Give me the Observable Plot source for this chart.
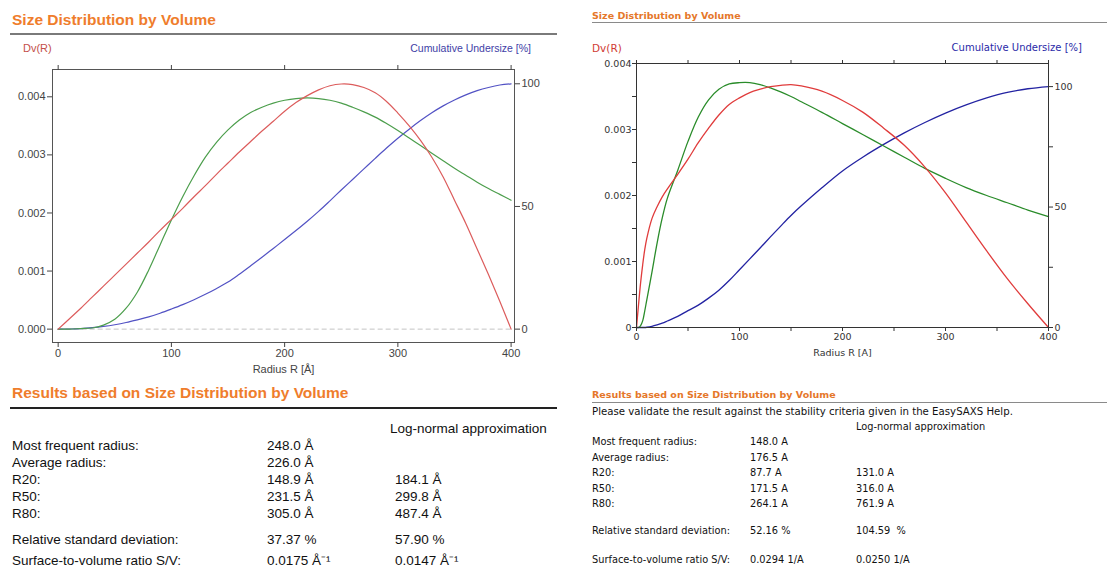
<!DOCTYPE html>
<html>
<head>
<meta charset="utf-8">
<script src="https://cdn.jsdelivr.net/npm/d3@7"></script>
<script src="https://cdn.jsdelivr.net/npm/@observablehq/plot@0.6"></script>
<style>
  html, body { margin: 0; padding: 0; background: #fff; }
  #page { position: relative; width: 1107px; height: 569px; overflow: hidden; }
  .abs { position: absolute; white-space: pre; }
  .arial { font-family: "Liberation Sans", Arial, sans-serif; }
  .tahoma { font-family: "DejaVu Sans", Verdana, sans-serif; }
  .chart { position: absolute; }
</style>
</head>
<body>
<div id="page"></div>
<script>
// ---------- Sample A (left report) ----------
const radiusA = [0,10,20,30,40,50,60,70,80,90,100,110,120,130,140,150,160,170,180,190,200,
                 210,220,230,240,250,260,270,280,290,300,310,320,330,340,350,360,370,380,390,400];
// Dv(R), volume-weighted distribution
const dvA = [0,0.00018,0.00036,0.00055,0.00074,0.00093,0.00112,0.00131,0.0015,0.0017,0.00189,
             0.00208,0.00228,0.00247,0.00267,0.00286,0.00305,0.00323,0.00341,0.00358,0.00375,
             0.0039,0.00402,0.00412,0.00419,0.00422,0.00421,0.00416,0.00407,0.00392,0.00372,
             0.0035,0.00325,0.00296,0.00262,0.00222,0.00182,0.00138,0.00094,0.00048,0];
// Log-normal approximation of Dv(R)
const logNormA = [0,0,0.00001,0.00002,0.00007,0.00017,0.00036,0.00064,0.00102,0.00145,0.00188,
                  0.00228,0.00264,0.00296,0.00322,0.00343,0.0036,0.00373,0.00382,0.00389,0.00394,
                  0.00397,0.00398,0.00397,0.00394,0.00389,0.00382,0.00374,0.00365,0.00354,0.00342,
                  0.00329,0.00316,0.00303,0.0029,0.00277,0.00265,0.00253,0.00242,0.00232,0.00222];
// Cumulative undersize [%]
const cumA = [0,0.05,0.25,0.6,1.1,1.8,2.7,3.8,5.0,6.5,8.2,10.0,12.0,14.2,16.6,19.2,22.4,25.8,29.3,
              32.9,36.5,40.2,44.0,48.0,52.3,56.7,61.0,65.3,69.6,73.8,77.8,81.5,85.0,88.2,91.0,93.4,
              95.5,97.2,98.5,99.5,100];
const xTicksA = [0,100,200,300,400];
const dvTicksA = [0,0.001,0.002,0.003,0.004];
const cumTicksA = [0,50,100];

const rowLabelsA = ["Most frequent radius:","Average radius:","R20:","R50:","R80:",
                    "Relative standard deviation:","Surface-to-volume ratio S/V:"];
const resultsA = ["248.0 Å","226.0 Å","148.9 Å","231.5 Å","305.0 Å","37.37 %","0.0175 Å⁻¹"];
const logNormResultsA = ["","","184.1 Å","299.8 Å","487.4 Å","57.90 %","0.0147 Å⁻¹"];

// ---------- Sample B (right report) ----------
const radiusB = [0,2,4,6,8,10,15,20,25,30,40,50,60,70,80,90,100,110,120,130,140,150,160,
                 180,200,220,240,260,280,300,320,340,360,380,400];
const dvB = [0,0.00035,0.00068,0.00095,0.00118,0.00135,0.00165,0.00183,0.00198,0.0021,0.00232,
             0.00255,0.0028,0.00302,0.00322,0.00338,0.00348,0.00356,0.00361,0.00365,0.00367,
             0.00368,0.00366,0.00358,0.00344,0.00326,0.00302,0.00276,0.00243,0.00204,0.0016,
             0.00116,0.00074,0.00036,0];
const logNormB = [0,0,0.00003,0.0001,0.00025,0.00042,0.00084,0.00128,0.00166,0.00196,0.00238,
                  0.00282,0.00319,0.00345,0.00361,0.00369,0.00371,0.00371,0.00368,0.00363,0.00357,
                  0.0035,0.00342,0.00326,0.00309,0.00292,0.00275,0.00258,0.00241,0.00226,0.00212,
                  0.002,0.00189,0.00178,0.00168];
const cumB = [0,0,0,0,0,0.1,0.5,1.1,1.8,2.7,4.6,7.0,9.3,12.2,15.5,19.5,24,28.5,33,37.6,42.1,
              46.5,50.5,58,65,70.8,76,80.8,85.1,89,92.4,95.3,97.6,99.1,100];
const xTicksB = [0,50,100,150,200,250,300,350,400];
const dvTicksB = [0,0.0005,0.001,0.0015,0.002,0.0025,0.003,0.0035,0.004];
const cumTicksB = [0,25,50,75,100];

const rowLabelsB = rowLabelsA;
const resultsB = ["148.0 A","176.5 A","87.7 A","171.5 A","264.1 A","52.16 %","0.0294 1/A"];
const logNormResultsB = ["","","131.0 A","316.0 A","761.9 A","104.59  %","0.0250 1/A"];

// ---------- page helpers ----------
const page = document.getElementById("page");
function text(s, x, y, cls, style = {}, align = "left") {
  const d = document.createElement("div");
  d.className = "abs " + cls;
  d.textContent = s;
  const lh = 16;
  d.style.lineHeight = lh + "px";
  d.style.top = (y - lh / 2) + "px";
  if (align === "right") d.style.right = (1107 - x) + "px";
  else d.style.left = x + "px";
  Object.assign(d.style, style);
  page.appendChild(d);
}
function rule(x1, x2, y, color, w) {
  const d = document.createElement("div");
  d.className = "abs";
  Object.assign(d.style, {left: x1 + "px", width: (x2 - x1) + "px", top: (y - w / 2) + "px",
                          height: w + "px", background: color});
  page.appendChild(d);
}
function place(svg, left, top) {
  const wrap = document.createElement("div");
  wrap.className = "chart";
  wrap.style.left = left + "px";
  wrap.style.top = top + "px";
  wrap.appendChild(svg);
  page.appendChild(wrap);
}

// ---------- left report ----------
const orangeA = "#ef7d2c";
const inkA = {fontSize: "13.5px", color: "#111"};
text("Size Distribution by Volume", 12, 20, "arial", {fontSize: "15.5px", fontWeight: "bold", color: orangeA});
rule(10, 557, 34, "#7a7a7a", 2);
text("Dv(R)", 23, 48, "arial", {fontSize: "11px", color: "#c4504a"});
text("Cumulative Undersize [%]", 531, 48, "arial", {fontSize: "10.5px", color: "#3e3ea6"}, "right");

const kA = 0.004224 / 100;   // 100 % sits at the Dv peak level
const dataA = radiusA.map((r, i) => ({r, dv: dvA[i], ln: logNormA[i], cum: cumA[i] * kA}));
const chartA = Plot.plot({
  width: 560, height: 318,
  marginTop: 9, marginRight: 46, marginBottom: 36, marginLeft: 52,
  style: {fontFamily: '"Liberation Sans", Arial, sans-serif', fontSize: "11px", color: "#444",
          background: "transparent", overflow: "visible"},
  x: {domain: [-5, 403]},
  y: {domain: [-0.00023, 0.00447]},
  marks: [
    Plot.ruleY([0], {x1: 0, x2: 400, stroke: "#c4c4c4", strokeDasharray: "5,3"}),
    Plot.line(dataA, {x: "r", y: "cum", stroke: "#5252c4", strokeWidth: 1.2, curve: "catmull-rom"}),
    Plot.line(dataA, {x: "r", y: "ln", stroke: "#4c9e4c", strokeWidth: 1.2, curve: "catmull-rom"}),
    Plot.line(dataA, {x: "r", y: "dv", stroke: "#dc5c5c", strokeWidth: 1.2, curve: "catmull-rom"}),
    Plot.frame({stroke: "#555"}),
    Plot.axisX({ticks: xTicksA, anchor: "bottom", tickSize: 5, tickPadding: 2, tickFormat: d => String(d),
                label: "Radius R [Å]", labelAnchor: "center", labelOffset: 30, labelArrow: "none"}),
    Plot.axisX({ticks: xTicksA, anchor: "top", tickSize: 5, tickFormat: () => "", label: null}),
    Plot.axisY({ticks: dvTicksA, anchor: "left", tickSize: 5, tickPadding: 2,
                tickFormat: d3.format(".3f"), label: null}),
    Plot.axisY({ticks: cumTicksA.map(v => v * kA), anchor: "right", tickSize: 5, tickPadding: 2,
                tickFormat: v => String(Math.round(v / kA)), label: null})
  ]
});
place(chartA, 0, 60);

text("Results based on Size Distribution by Volume", 12, 393, "arial", {fontSize: "15.5px", fontWeight: "bold", color: orangeA});
rule(10, 557, 408, "#222", 1.5);
text("Log-normal approximation", 390, 429, "arial", inkA);
const rowYA = [446, 463, 480, 497, 514, 539.5, 561];
rowLabelsA.forEach((lab, i) => {
  text(lab, 12, rowYA[i], "arial", inkA);
  text(resultsA[i], 267, rowYA[i], "arial", inkA);
  if (logNormResultsA[i]) text(logNormResultsA[i], 395, rowYA[i], "arial", inkA);
});

// ---------- right report ----------
const orangeB = "#e5772a";
const inkB = {fontSize: "9.8px", color: "#111"};
text("Size Distribution by Volume", 592, 16, "tahoma", {fontSize: "9.5px", fontWeight: "bold", color: orangeB});
rule(592, 1107, 22.5, "#8a8a8a", 1);
text("Dv(R)", 592, 48, "tahoma", {fontSize: "10.5px", color: "#d03a34"});
text("Cumulative Undersize [%]", 1082, 48, "tahoma", {fontSize: "10px", color: "#2a2aa8"}, "right");

const kB = 0.00365 / 100;
const dataB = radiusB.map((r, i) => ({r, dv: dvB[i], ln: logNormB[i], cum: cumB[i] * kB}));
const labelled = (v, step) => Math.abs(v / step - Math.round(v / step)) < 1e-6;
const chartB = Plot.plot({
  width: 527, height: 305,
  marginTop: 8, marginRight: 59, marginBottom: 33, marginLeft: 56,
  style: {fontFamily: '"DejaVu Sans", Verdana, sans-serif', fontSize: "9.5px", color: "#333",
          background: "transparent", overflow: "visible"},
  x: {domain: [0, 400]},
  y: {domain: [0, 0.004]},
  marks: [
    Plot.line(dataB, {x: "r", y: "cum", stroke: "#2323a2", strokeWidth: 1.3, curve: "catmull-rom"}),
    Plot.line(dataB, {x: "r", y: "ln", stroke: "#2a8c2a", strokeWidth: 1.3, curve: "catmull-rom"}),
    Plot.line(dataB, {x: "r", y: "dv", stroke: "#e03c3c", strokeWidth: 1.3, curve: "catmull-rom"}),
    Plot.frame({stroke: "#333"}),
    Plot.axisX({ticks: xTicksB, anchor: "bottom", tickSize: 4, tickPadding: 2,
                tickFormat: d => labelled(d, 100) ? String(d) : "",
                label: "Radius R [A]", labelAnchor: "center", labelOffset: 28, labelArrow: "none"}),
    Plot.axisX({ticks: xTicksB, anchor: "top", tickSize: 4, tickFormat: () => "", label: null}),
    Plot.axisY({ticks: dvTicksB, anchor: "left", tickSize: 4, tickPadding: 1,
                tickFormat: d => !labelled(d, 0.001) ? "" : d === 0 ? "0" : d.toFixed(3), label: null}),
    Plot.axisY({ticks: cumTicksB.map(v => v * kB), anchor: "right", tickSize: 4, tickPadding: 2,
                tickFormat: v => { const p = Math.round(v / kB); return p % 50 === 0 ? String(p) : ""; },
                label: null})
  ]
});
place(chartB, 580, 55);

text("Results based on Size Distribution by Volume", 592, 395, "tahoma", {fontSize: "9.5px", fontWeight: "bold", color: orangeB});
rule(592, 1107, 402.5, "#8a8a8a", 1);
text("Please validate the result against the stability criteria given in the EasySAXS Help.", 592, 412, "tahoma", {fontSize: "10.2px", color: "#111"});
text("Log-normal approximation", 856, 427, "tahoma", inkB);
const rowYB = [442, 457.5, 473, 488.5, 504, 531, 560];
rowLabelsB.forEach((lab, i) => {
  text(lab, 592, rowYB[i], "tahoma", inkB);
  text(resultsB[i], 750, rowYB[i], "tahoma", inkB);
  if (logNormResultsB[i]) text(logNormResultsB[i], 856, rowYB[i], "tahoma", inkB);
});
</script>
</body>
</html>
